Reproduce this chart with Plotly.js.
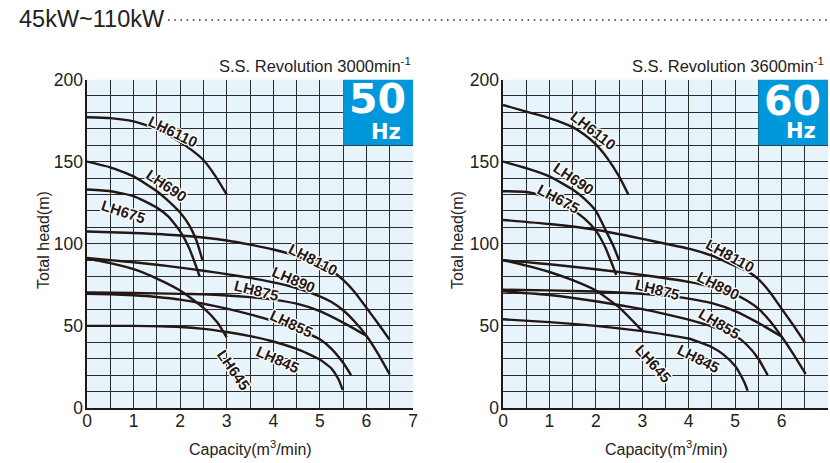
<!DOCTYPE html>
<html>
<head>
<meta charset="utf-8">
<script src="https://cdn.plot.ly/plotly-3.0.1.min.js"></script>
<style>html,body{margin:0;padding:0;background:#fff;}#chart{width:830px;height:463px;}</style>
</head>
<body>
<div id="chart"></div>
<script>
// ---------- DATA ----------
const curveNames = ["LH6110","LH690","LH675","LH8110","LH890","LH875","LH855","LH645","LH845"];

// 50 Hz (3000 min-1)
const LH6110_50_x = [0,0.5,1,1.5,2,2.25,2.5,2.75,3];
const LH6110_50_y = [177,176.5,174.5,170,162,157,151,141.5,130];
const LH690_50_x  = [0,0.5,1,1.5,1.75,2,2.2,2.35,2.48];
const LH690_50_y  = [150,146.5,141,132,126,119,111,102,90];
const LH675_50_x  = [0,0.5,1,1.5,1.75,2,2.2,2.42];
const LH675_50_y  = [133,132,129,122,116.5,107.5,97,80];
const LH8110_50_x = [0,1,2,3,3.5,4,4.5,5,5.25,5.5,5.75,6,6.25,6.5];
const LH8110_50_y = [107.5,106.5,105,102,99.5,96.5,92.5,86.5,83.5,78,70.5,61,51.5,41.5];
const LH890_50_x  = [0,0.5,1,1.5,2,2.5,3,3.5,4,4.5,5,5.25,5.5,5.75,6,6.25,6.5];
const LH890_50_y  = [91.3,90,88.7,87.2,85.5,83.6,81.5,79.2,76.5,73,68,64.5,59.5,52.5,44,33,20.5];
const LH875_50_x  = [0,1,2,2.5,3,3.5,4,4.5,5,5.5,6];
const LH875_50_y  = [70.3,70,69.5,69.2,68.5,67.5,66,63.5,59,52,44];
const LH855_50_x  = [0,0.5,1,1.5,2,2.5,3,3.5,4,4.5,4.75,5,5.25,5.5,5.67];
const LH855_50_y  = [69.5,69.2,68.6,67.6,66,63.5,60.5,57,53,48.3,45.3,41.8,36,27.5,20];
const LH645_50_x  = [0,0.5,1,1.5,2,2.5,2.8,3];
const LH645_50_y  = [91,88.2,84.5,78.8,71.5,61,52,43];
const LH845_50_x  = [0,1,2,2.5,3,3.5,4,4.5,4.75,5,5.25,5.4,5.49];
const LH845_50_y  = [50,50,49.3,48.2,46.3,43.8,40.5,36,33,29.5,24,17.5,11];

// 60 Hz (3600 min-1)
const LH6110_60_x = [0,0.5,1,1.5,1.75,2,2.25,2.5,2.7];
const LH6110_60_y = [184.5,180.5,176.5,171,166.5,160.5,152,141,130];
const LH690_60_x  = [0,0.5,1,1.5,1.75,2,2.12,2.25,2.38,2.5];
const LH690_60_y  = [150,146,141,133,127.5,120,113.5,106,98.5,90];
const LH675_60_x  = [0,0.5,1,1.5,1.75,2,2.2,2.44];
const LH675_60_y  = [132,131.5,128,120.5,115.5,108,98,81];
const LH8110_60_x = [0,1,2,3,3.5,4,4.5,5,5.25,5.5,5.75,6,6.25,6.5];
const LH8110_60_y = [114.5,112,108.5,103,100,97,92.7,86.5,83.5,78.5,70.5,60.5,50.5,40];
const LH890_60_x  = [0,0.5,1,2,3,3.5,4,4.5,5,5.25,5.5,5.75,6,6.25,6.52];
const LH890_60_y  = [90,88.8,87.5,84.5,81,79,76.8,73.7,69,65.5,60.5,53,43.5,33,20.7];
const LH875_60_x  = [0,1,2,3,3.5,4,4.5,5,5.5,6];
const LH875_60_y  = [72,71.6,70.9,69.6,68.4,66.6,63.8,59,51.8,43.5];
const LH855_60_x  = [0,1,2,3,3.5,4,4.5,5,5.25,5.5,5.7];
const LH855_60_y  = [71,68.8,65,60.2,57.2,53.8,49.6,44,38.5,30,20];
const LH645_60_x  = [0,0.5,1,1.5,2,2.5,3];
const LH645_60_y  = [90,86.7,82.8,77.8,71.5,61.3,47];
const LH845_60_x  = [0,1,2,3,3.5,4,4.5,4.75,5,5.1,5.2,5.27];
const LH845_60_y  = [54,52.3,50,46.8,44.7,42.3,37,32.5,25.5,21,15.5,10.5];

const xTicks = [0,1,2,3,4,5,6,7];
const yTicks = [0,50,100,150,200];
const titleText = "45kW~110kW";
const sub50 = "S.S. Revolution 3000min<sup>-1</sup>";
const sub60 = "S.S. Revolution 3600min<sup>-1</sup>";
const xTitle = "Capacity(m<sup>3</sup>/min)";
const yTitle = "Total head(m)";
const badge50 = ["50","Hz"];
const badge60 = ["60","Hz"];

// ---------- label placement (positions / styles) ----------
const labels50 = [
  ["LH6110",1.85,168.5,26],["LH690",1.71,135.5,34],["LH675",0.78,119.7,18],
  ["LH8110",4.86,90.6,27],["LH890",4.44,78,23],["LH875",3.65,71.5,14],
  ["LH855",4.39,51.6,25],["LH845",4.1,29.3,24],["LH645",3.14,23.2,55]
];
const labels60 = [
  ["LH6110",1.95,169,38],["LH690",1.52,139.6,34],["LH675",1.19,127.5,28],
  ["LH8110",4.89,93,29],["LH890",4.64,74.8,27],["LH875",3.33,72.3,14],
  ["LH855",4.66,51.5,31],["LH845",4.21,30.2,27],["LH645",3.24,27.2,48]
];

const series50 = [
  [LH6110_50_x,LH6110_50_y],[LH690_50_x,LH690_50_y],[LH675_50_x,LH675_50_y],
  [LH8110_50_x,LH8110_50_y],[LH890_50_x,LH890_50_y],[LH875_50_x,LH875_50_y],
  [LH855_50_x,LH855_50_y],[LH645_50_x,LH645_50_y],[LH845_50_x,LH845_50_y]
];
const series60 = [
  [LH6110_60_x,LH6110_60_y],[LH690_60_x,LH690_60_y],[LH675_60_x,LH675_60_y],
  [LH8110_60_x,LH8110_60_y],[LH890_60_x,LH890_60_y],[LH875_60_x,LH875_60_y],
  [LH855_60_x,LH855_60_y],[LH645_60_x,LH645_60_y],[LH845_60_x,LH845_60_y]
];

const W = 830, H = 463;
const px = v => v / W;
const py = v => 1 - v / H;
const INK = "#231815";
const FONT = "Liberation Sans, Arial, Helvetica, sans-serif";
const BADGE_FONT = "DejaVu Sans, Verdana, sans-serif";

const traces = [];
const addSeries = (list, xa, ya) => list.forEach((s,i) => traces.push({
  x:s[0], y:s[1], name:curveNames[i], xaxis:xa, yaxis:ya, mode:"lines",
  line:{color:INK,width:2.4,shape:"spline",smoothing:0.5}, hoverinfo:"skip", showlegend:false
}));
addSeries(series50,"x","y");
addSeries(series60,"x2","y2");
// invisible carriers for the overlaid label axes
const xExt = [xTicks[0], xTicks[xTicks.length-1]];
const yExt = [yTicks[0], yTicks[yTicks.length-1]];
traces.push({x:xExt,y:yExt,xaxis:"x3",yaxis:"y3",mode:"markers",marker:{opacity:0},hoverinfo:"skip",showlegend:false});
traces.push({x:xExt,y:yExt,xaxis:"x4",yaxis:"y4",mode:"markers",marker:{opacity:0},hoverinfo:"skip",showlegend:false});

const GRID = "#2b2b2b";
const TICKFONT = {family:FONT,size:17.5,color:"#222"};
function gridX(domain, anchor){
  return {domain, anchor, range:xExt, dtick:0.5, tick0:0, showgrid:true, gridcolor:GRID, gridwidth:1,
    showticklabels:false, ticks:"", showline:true, linecolor:INK, linewidth:2, zeroline:false, fixedrange:true};
}
function gridY(domain, anchor){
  return {domain, anchor, range:yExt, dtick:10, tick0:0, showgrid:true, gridcolor:GRID, gridwidth:1,
    showticklabels:false, ticks:"", showline:true, linecolor:INK, linewidth:2, zeroline:false, fixedrange:true};
}
function labX(over, anchor){
  return {overlaying:over, anchor, range:xExt, tickvals:xTicks, ticktext:xTicks.map(String),
    showgrid:false, showline:false, zeroline:false, ticks:"", tickfont:TICKFONT, fixedrange:true};
}
function labY(over, anchor){
  return {overlaying:over, anchor, range:yExt, tickvals:yTicks, ticktext:yTicks.map(String),
    showgrid:false, showline:false, zeroline:false, ticks:"", ticklabelstandoff:3, tickfont:TICKFONT, fixedrange:true};
}

const yDom = [py(408), py(79.5)];
const SHADOW = "1px 1px 0 #fff, -1px -1px 0 #fff, 1px -1px 0 #fff, -1px 1px 0 #fff, 0 1px 0 #fff, 0 -1px 0 #fff, 1px 0 0 #fff, -1px 0 0 #fff";

const annotations = [];
function addLabels(list, xr, yr){
  list.forEach(l => annotations.push({
    xref:xr, yref:yr, x:l[1], y:l[2], text:l[0], textangle:l[3], showarrow:false,
    font:{family:FONT,size:15,weight:"bold",color:INK,shadow:SHADOW}
  }));
}
addLabels(labels50,"x","y");
addLabels(labels60,"x2","y2");

const paperText = (text,x,y,opts) => Object.assign({xref:"paper",yref:"paper",x:px(x),y:py(y),text,showarrow:false},opts);
annotations.push(paperText(titleText,17,19,{xanchor:"left",yanchor:"middle",font:{family:FONT,size:23.5,color:"#222"}}));
annotations.push(paperText(sub50,413,65,{xanchor:"right",yanchor:"middle",font:{family:FONT,size:16.5,color:"#222"}}));
annotations.push(paperText(sub60,826,65,{xanchor:"right",yanchor:"middle",font:{family:FONT,size:16.5,color:"#222"}}));
annotations.push(paperText(xTitle,250,448,{xanchor:"center",yanchor:"middle",font:{family:FONT,size:16,color:"#222"}}));
annotations.push(paperText(xTitle,666,448,{xanchor:"center",yanchor:"middle",font:{family:FONT,size:16,color:"#222"}}));
annotations.push(paperText(yTitle,43,240,{xanchor:"center",yanchor:"middle",textangle:-90,font:{family:FONT,size:16,color:"#222"}}));
annotations.push(paperText(yTitle,457,240,{xanchor:"center",yanchor:"middle",textangle:-90,font:{family:FONT,size:16,color:"#222"}}));
// Hz badges
annotations.push(paperText(badge50[0],377.5,99,{xanchor:"center",yanchor:"middle",font:{family:BADGE_FONT,size:41,weight:"bold",color:"#fff"}}));
annotations.push(paperText(badge50[1],386,132,{xanchor:"center",yanchor:"middle",font:{family:BADGE_FONT,size:21,weight:"bold",color:"#fff"}}));
annotations.push(paperText(badge60[0],792,101,{xanchor:"center",yanchor:"middle",font:{family:BADGE_FONT,size:41,weight:"bold",color:"#fff"}}));
annotations.push(paperText(badge60[1],801,131,{xanchor:"center",yanchor:"middle",font:{family:BADGE_FONT,size:21,weight:"bold",color:"#fff"}}));

const BLUE = "#0097db";
const shapes = [
  {type:"rect",xref:"x",yref:"y",x0:5.5,x1:7,y0:160,y1:200,fillcolor:BLUE,line:{width:0},layer:"above"},
  {type:"rect",xref:"x2",yref:"y2",x0:5.5,x1:7,y0:160,y1:200,fillcolor:BLUE,line:{width:0},layer:"above"},
  {type:"line",xref:"paper",yref:"paper",x0:px(168),x1:px(830),y0:py(20),y1:py(20),
   line:{color:"#333",width:1.6,dash:"1.6px,4.6px"}}
];

const layout = {
  width:W, height:H, margin:{l:0,r:0,t:0,b:0},
  paper_bgcolor:"#ffffff", plot_bgcolor:"#e8f4fc",
  xaxis:gridX([px(87),px(413)],"y"),
  yaxis:gridY(yDom,"x"),
  xaxis2:gridX([px(503),px(828)],"y2"),
  yaxis2:gridY(yDom,"x2"),
  xaxis3:labX("x","y3"),
  yaxis3:labY("y","x3"),
  xaxis4:labX("x2","y4"),
  yaxis4:labY("y2","x4"),
  annotations, shapes, showlegend:false
};

Plotly.newPlot("chart", traces, layout, {displayModeBar:false, staticPlot:true});
</script>
</body>
</html>
